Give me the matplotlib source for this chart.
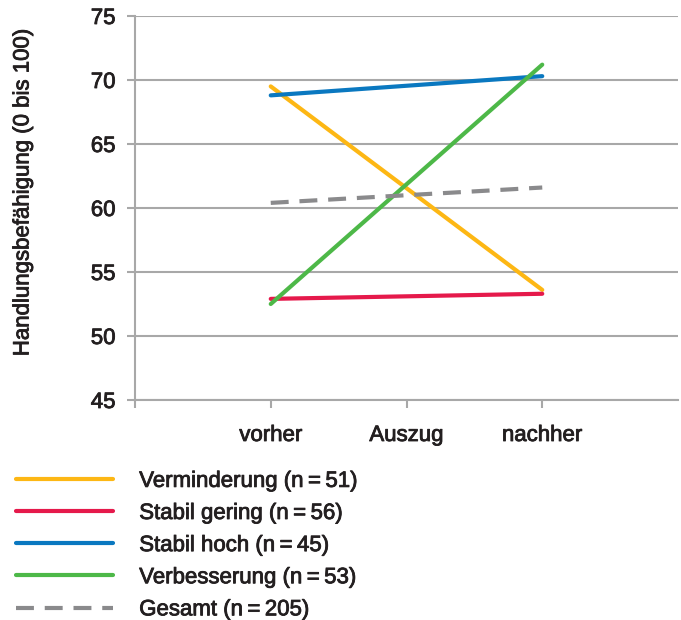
import matplotlib.pyplot as plt
import matplotlib.patheffects as pe

plt.rcParams['font.family'] = ['Liberation Sans', 'DejaVu Sans']

# data
zeitpunkte = ['vorher', 'Auszug', 'nachher']
x_punkte = [0, 2]  # vorher, nachher
verminderung = [69.5, 53.6]
stabil_gering = [52.9, 53.3]
stabil_hoch = [68.8, 70.3]
verbesserung = [52.5, 71.2]
gesamt = [60.4, 61.6]
labels = ['Verminderung (n\u2009=\u200951)', 'Stabil gering (n\u2009=\u200956)',
          'Stabil hoch (n\u2009=\u200945)', 'Verbesserung (n\u2009=\u200953)',
          'Gesamt (n\u2009=\u2009205)']
farben = ['#FDB714', '#E5194B', '#0A78C0', '#4DB848', '#8A8A8C']

txt = '#231F20'
grid = '#A8A8A8'
fs = 16
dick = [pe.withStroke(linewidth=0.6, foreground=txt)]

fig = plt.figure(figsize=(6.81, 6.20), dpi=100)
ax = fig.add_axes([135/681, 1-400/620, (678-135)/681, 384/620])

serien = [verminderung, stabil_gering, stabil_hoch, verbesserung]
for werte, lab, c in zip(serien, labels[:4], farben[:4]):
    ax.plot(x_punkte, werte, color=c, lw=3, label=lab, solid_capstyle='round')
ax.plot(x_punkte, gesamt, color=farben[4], lw=3, dashes=(4.3, 2.6), label=labels[4])

ax.set_ylim(45, 75)
ax.set_xlim(-1, 3)
ax.set_yticks(range(45, 80, 5))
ax.set_xticks([-1, 0, 1, 2])
ax.set_xticklabels([''] + zeitpunkte)
ax.yaxis.grid(True, color=grid, lw=1.5)
ax.set_axisbelow(True)
for s in ['top', 'right']:
    ax.spines[s].set_visible(False)
for s in ['left', 'bottom']:
    ax.spines[s].set_color(grid)
    ax.spines[s].set_linewidth(1.5)
ax.tick_params(axis='both', colors=grid, width=1.5, length=6, labelcolor=txt, labelsize=fs)
ax.tick_params(axis='y', pad=8)
ax.tick_params(axis='x', pad=12)
for t in ax.get_xticklabels() + ax.get_yticklabels():
    t.set_path_effects(dick)

fig.text(23/681, 1-192/620, 'Handlungsbefähigung (0 bis 100)', rotation=90,
         ha='center', va='center', fontsize=fs, color=txt, path_effects=dick)

leg = fig.legend(loc='upper left', bbox_to_anchor=(7/681, 1-462/620), frameon=False,
                 fontsize=fs, handlelength=4.35, handletextpad=1.2, labelspacing=0.5,
                 labelcolor=txt, borderaxespad=0)
for t in leg.get_texts():
    t.set_path_effects(dick)

fig.savefig('out.png', dpi=100)
